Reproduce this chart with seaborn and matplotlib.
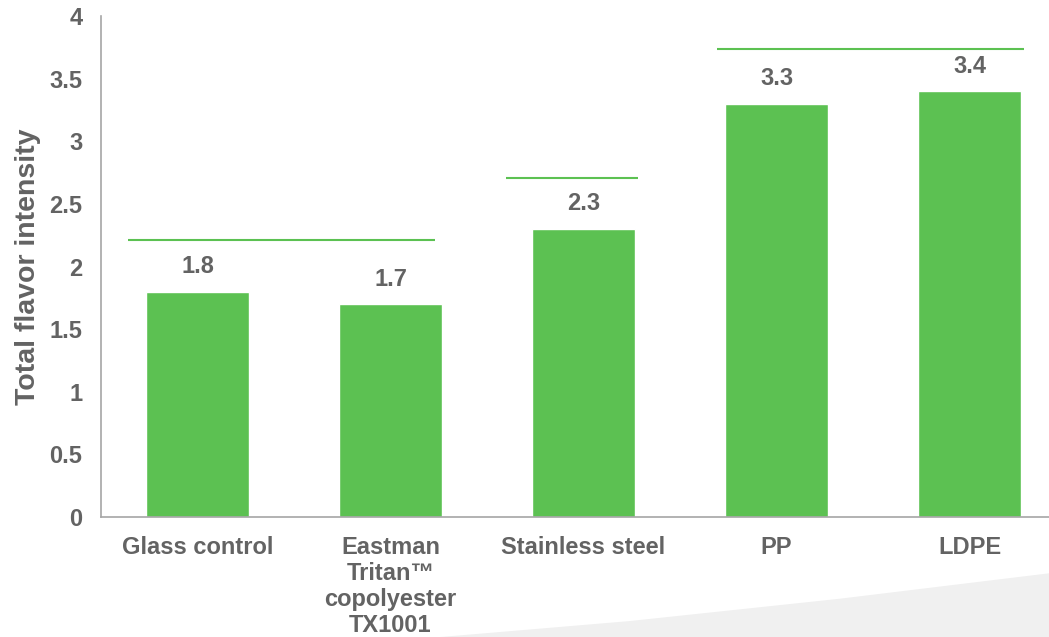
import matplotlib
matplotlib.use("Agg")
import matplotlib.pyplot as plt
import seaborn as sns
import pandas as pd
from matplotlib.patches import Polygon

categories = ["Glass control", "Eastman\nTritan\u2122\ncopolyester\nTX1001", "Stainless steel", "PP", "LDPE"]
values = [1.8, 1.7, 2.3, 3.3, 3.4]
value_labels = ["1.8", "1.7", "2.3", "3.3", "3.4"]
yticks = [0, 0.5, 1, 1.5, 2, 2.5, 3, 3.5, 4]
ytick_labels = ["0", "0.5", "1", "1.5", "2", "2.5", "3", "3.5", "4"]
# significance group lines: (x start, x end, y) in data units
group_lines = [(-0.36, 1.23, 2.21), (1.60, 2.28, 2.71), (2.69, 4.28, 3.74)]

GREEN = "#5CC152"
TEXT = "#636363"
AXIS = "#A6A6A6"

sns.set_theme(style="white")
plt.rcParams["font.family"] = ["Liberation Sans", "DejaVu Sans"]

fig = plt.figure(figsize=(10.49, 6.37), dpi=100)

# faint background swoosh at bottom right
sw = Polygon([[0.42, 0.0], [1.0, 0.0], [1.0, 0.10], [0.80, 0.06], [0.60, 0.025]],
             closed=True, transform=fig.transFigure, facecolor="#F0F0F0",
             edgecolor="none", zorder=-5)
fig.patches.append(sw)

ax = fig.add_axes([101 / 1049, 1 - 517 / 637, (1049 - 101) / 1049, (517 - 16) / 637])
ax.patch.set_alpha(0)
ax.set_zorder(2)

df = pd.DataFrame({"cat": categories, "val": values})
sns.barplot(data=df, x="cat", y="val", color=GREEN, saturation=1, width=0.535, ax=ax)

for i, (v, lab) in enumerate(zip(values, value_labels)):
    ax.text(i, v + 0.2, lab, ha="center", va="center", fontsize=17,
            fontweight="bold", color=TEXT)

for x0, x1, y in group_lines:
    ax.plot([x0, x1], [y, y], color=GREEN, lw=1.5, solid_capstyle="butt")

ax.set_yticks(yticks)
ax.set_yticklabels(ytick_labels)
ax.set_xticks([i - 0.5 for i in range(6)], minor=False)
ax.set_xticklabels([])
ax.set_xticks(range(5), minor=True)
ax.set_xticklabels(categories, minor=True)
ax.set_xlim(-0.5, -0.5 + (1049 - 101) / 193)
ax.set_ylim(0, 4)
ax.tick_params(axis="x", which="major", length=5, color=AXIS, width=1, direction="out")
ax.tick_params(axis="x", which="minor", length=0, pad=14, labelsize=17, labelcolor=TEXT)
ax.tick_params(axis="y", length=4.5, color=AXIS, width=1, direction="out",
               labelsize=17, labelcolor=TEXT, pad=9)
for lab in ax.get_xticklabels(minor=True) + ax.get_yticklabels():
    lab.set_fontweight("bold")
for lab in ax.get_xticklabels(minor=True):
    lab.set_linespacing(1.15)

ax.set_xlabel("")
ax.set_ylabel("Total flavor intensity", fontsize=20.5, fontweight="bold", color=TEXT, labelpad=6)

for s in ["top", "right"]:
    ax.spines[s].set_visible(False)
for s in ["left", "bottom"]:
    ax.spines[s].set_color(AXIS)
    ax.spines[s].set_linewidth(1.2)

fig.savefig("out.png", dpi=100)
